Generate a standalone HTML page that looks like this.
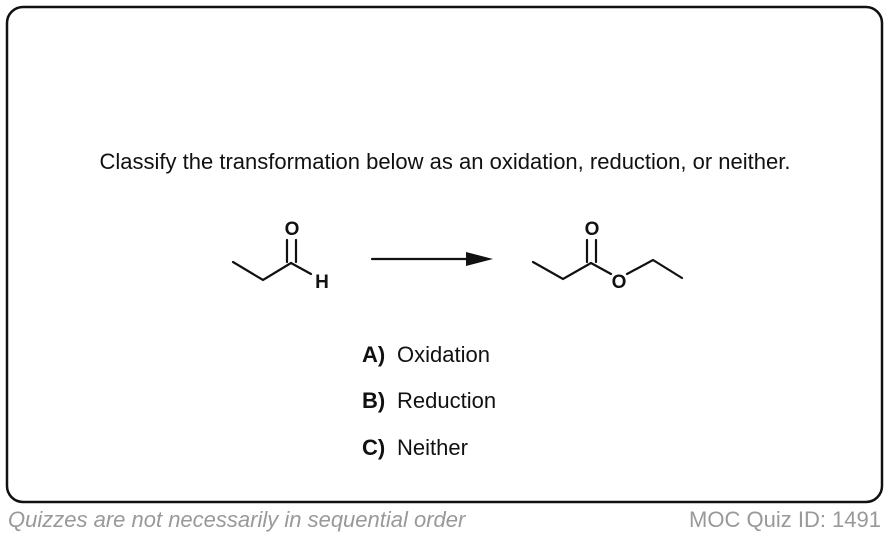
<!DOCTYPE html>
<html><head><meta charset="utf-8"><style>
html,body{margin:0;padding:0;background:#fff;}
body{width:890px;height:536px;overflow:hidden;}
</style></head><body>
<svg width="890" height="536" viewBox="0 0 890 536" xmlns="http://www.w3.org/2000/svg" font-family="Liberation Sans, Arial, sans-serif">
<rect x="7" y="7" width="875" height="495" rx="16" ry="16" fill="#fff" stroke="#111" stroke-width="2.5"/>
<text x="445" y="169" font-size="22" text-anchor="middle" fill="#111">Classify the transformation below as an oxidation, reduction, or neither.</text>
<g stroke="#111" stroke-width="2.2" fill="none" stroke-linecap="round">
<polyline points="233,262 263,280 291,263"/>
<line x1="287" y1="262" x2="287" y2="240"/>
<line x1="296" y1="262" x2="296" y2="240"/>
<line x1="291" y1="263" x2="311" y2="274"/>
<line x1="372" y1="259" x2="472" y2="259"/>
<polyline points="533,262 563,279 591,263"/>
<line x1="587" y1="262" x2="587" y2="240"/>
<line x1="596" y1="262" x2="596" y2="240"/>
<line x1="591" y1="263" x2="611" y2="274"/>
<polyline points="627,274 653,260 682,278"/>
</g>
<polygon points="466,252 493,259 466,266" fill="#111"/>
<g font-size="19" font-weight="bold" fill="#111" text-anchor="middle">
<text x="292" y="235">O</text>
<text x="322" y="288">H</text>
<text x="592" y="235">O</text>
<text x="619" y="288">O</text>
</g>
<g font-size="22" fill="#111">
<text x="362" y="362" font-weight="bold">A)</text><text x="397" y="362">Oxidation</text>
<text x="362" y="408" font-weight="bold">B)</text><text x="397" y="408">Reduction</text>
<text x="362" y="455" font-weight="bold">C)</text><text x="397" y="455">Neither</text>
</g>
<text x="8" y="527" font-size="22" font-style="italic" fill="#999">Quizzes are not necessarily in sequential order</text>
<text x="881" y="527" font-size="22" fill="#999" text-anchor="end">MOC Quiz ID: 1491</text>
</svg>
</body></html>
